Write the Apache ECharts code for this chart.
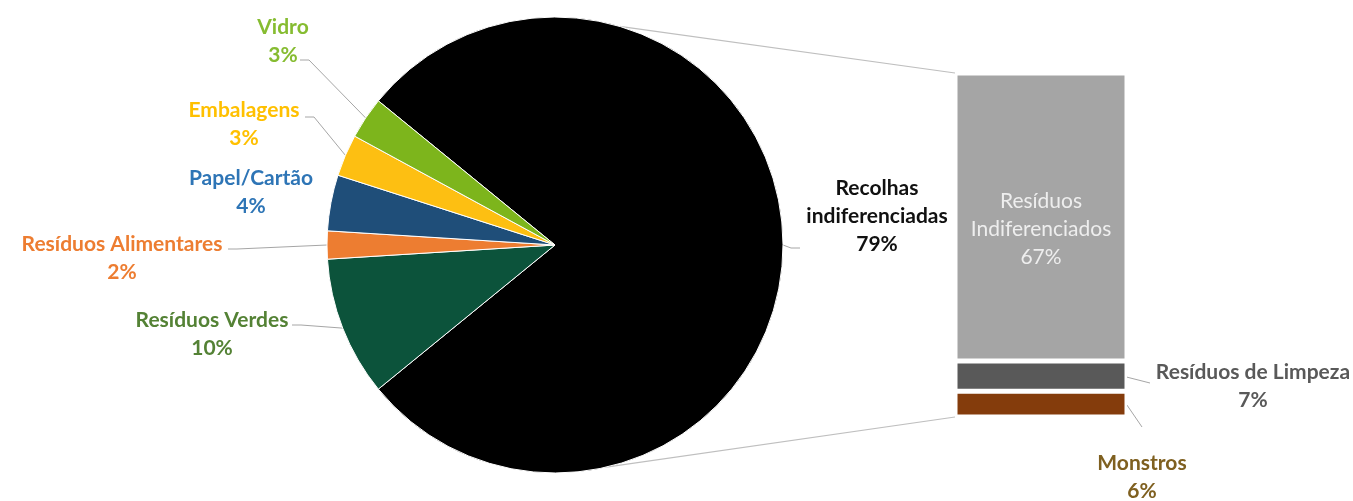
<!DOCTYPE html>
<html><head><meta charset="utf-8">
<script src="https://cdn.jsdelivr.net/npm/echarts@6/dist/echarts.min.js"></script>
<style>html,body{margin:0;padding:0;background:#fff}#c{width:1353px;height:501px}</style>
</head><body><div id="c"></div>
<script>
// ---- data ----
const pieNames = ['Recolhas indiferenciadas','Resíduos Verdes','Resíduos Alimentares','Papel/Cartão','Embalagens','Vidro'];
const pieLabelText = ['Recolhas\nindiferenciadas','Resíduos Verdes','Resíduos Alimentares','Papel/Cartão','Embalagens','Vidro'];
const pieValues = [79,10,2,4,3,3];
const barNames = ['Monstros','Resíduos de Limpeza','Resíduos Indiferenciados'];
const barLabelText = ['Monstros','Resíduos de Limpeza','Resíduos\nIndiferenciados'];
const barValues = [6,7,67];

// ---- styles ----
const pieColors = ['#000000','#0c533b','#ed7d31','#1f4e79','#fdbf12','#7db51c'];
const pieTextColors = ['#111111','#548235','#ed7d31','#2e75b6','#ffc000','#86bc31'];
const barColors = ['#843c0c','#595959','#a5a5a5'];
const barTextColors = ['#7f6020','#595959','#eeeeee'];
const FONT = 'Lato';
const FS = 21;
const CX = 555, CY = 245, R = 228;
// label block centres and leader anchor offsets (from label centre)
const pieLabelPos = [[877,216],[212,334],[122,258],[251,192],[244,124],[283,41]];
const pieLineAnchor = [[-77,32],[80,-9],[106,-9],null,[61,-7],[17,19]];
const barLabelPos = [[1142,477],[1253,386],null];
const barLineEnd = [[0,-50],[-103,-3],null];

const total = pieValues.reduce((a,b)=>a+b,0);
const restAngle = (total - pieValues[0]) / total * 360;
const startAngle = 180 - restAngle/2;
const midAngles = []; let acc = startAngle;
pieValues.forEach(v => { const a = v/total*360; midAngles.push(acc - a/2); acc -= a; });
function arcPt(deg, r){ const t = deg*Math.PI/180; return [CX + r*Math.cos(t), CY - r*Math.sin(t)]; }

const chart = echarts.init(document.getElementById('c'));
const pieData = pieNames.map((n,i)=>({
  name: n, value: pieValues[i],
  itemStyle: {color: pieColors[i]},
  label: {color: pieTextColors[i]},
  labelLine: {show: pieLineAnchor[i] !== null}
}));

const barSeries = barNames.map((n,i)=>({
  type:'bar', name:n, stack:'s', barWidth:'100%',
  data:[barValues[i]],
  itemStyle:{color: barColors[i], borderColor:'#fff', borderWidth:2.5},
  label:{show:true, position: i===2 ? 'inside':'right', color: barTextColors[i],
    fontFamily: FONT, fontSize: FS, fontWeight: i===2 ? 'normal':'bold', lineHeight: 28, align:'center',
    formatter: () => barLabelText[i] + '\n' + barValues[i] + '%'},
  labelLayout: function(p){
    const r = p.rect;
    if (i===2) return {x: r.x + r.width/2, y: r.y + r.height/2 + 12, align:'center', verticalAlign:'middle'};
    return {x: barLabelPos[i][0], y: barLabelPos[i][1], align:'center', verticalAlign:'middle'};
  }
}));

chart.setOption({
  animation:false,
  backgroundColor:'#fff',
  grid:{left:955, top:73, width:172, height:344},
  xAxis:{type:'category', data:['x'], show:false},
  yAxis:{type:'value', min:0, max:80, show:false},
  series:[{
    type:'pie', center:[CX,CY], radius:R, startAngle:startAngle, clockwise:true,
    data: pieData,
    itemStyle:{borderColor:'#fff', borderWidth:1},
    label:{show:true, position:'outside', fontFamily:FONT, fontSize:FS, fontWeight:'bold', lineHeight:28, align:'center',
      formatter: p => pieLabelText[p.dataIndex] + '\n' + p.value + '%'},
    labelLine:{lineStyle:{color:'#a6a6a6', width:1}},
    labelLayout: function(p){
      const i = p.dataIndex, pos = pieLabelPos[i], an = pieLineAnchor[i];
      const o = {x: pos[0], y: pos[1], align:'center', verticalAlign:'middle'};
      if (an) {
        const s = [pos[0]+an[0], pos[1]+an[1]];
        const dir = an[0] > 0 ? 1 : -1;
        const elbow = [s[0] + dir*9, s[1]];
        o.labelLinePoints = [arcPt(midAngles[i], R), elbow, s];
      }
      return o;
    }
  }].concat(barSeries)
});

// connectors from the pie to the bar, and bar label leader lines
const topRight = chart.convertToPixel({gridIndex:0}, [0, 80]);
const botRight = chart.convertToPixel({gridIndex:0}, [0, 0]);
const barLeft = 955, barRight = 955 + 172;
const pTop = arcPt(73.5, R), pBot = arcPt(-77, R);
const graphics = [
  {type:'line', shape:{x1:pTop[0], y1:pTop[1], x2:barLeft, y2:topRight[1]}, style:{stroke:'#bfbfbf', lineWidth:1.2}, z:1},
  {type:'line', shape:{x1:pBot[0], y1:pBot[1], x2:barLeft, y2:botRight[1]}, style:{stroke:'#bfbfbf', lineWidth:1.2}, z:1}
];
let cum = 0;
barValues.forEach((v,i)=>{
  const mid = chart.convertToPixel({gridIndex:0}, [0, cum + v/2]);
  cum += v;
  if (!barLabelPos[i]) return;
  const e = [barLabelPos[i][0] + barLineEnd[i][0], barLabelPos[i][1] + barLineEnd[i][1]];
  graphics.push({type:'line', shape:{x1:barRight, y1:mid[1] + 1, x2:e[0], y2:e[1]}, style:{stroke:'#a6a6a6', lineWidth:1}, z:1});
});
chart.setOption({graphic: graphics});
</script></body></html>
